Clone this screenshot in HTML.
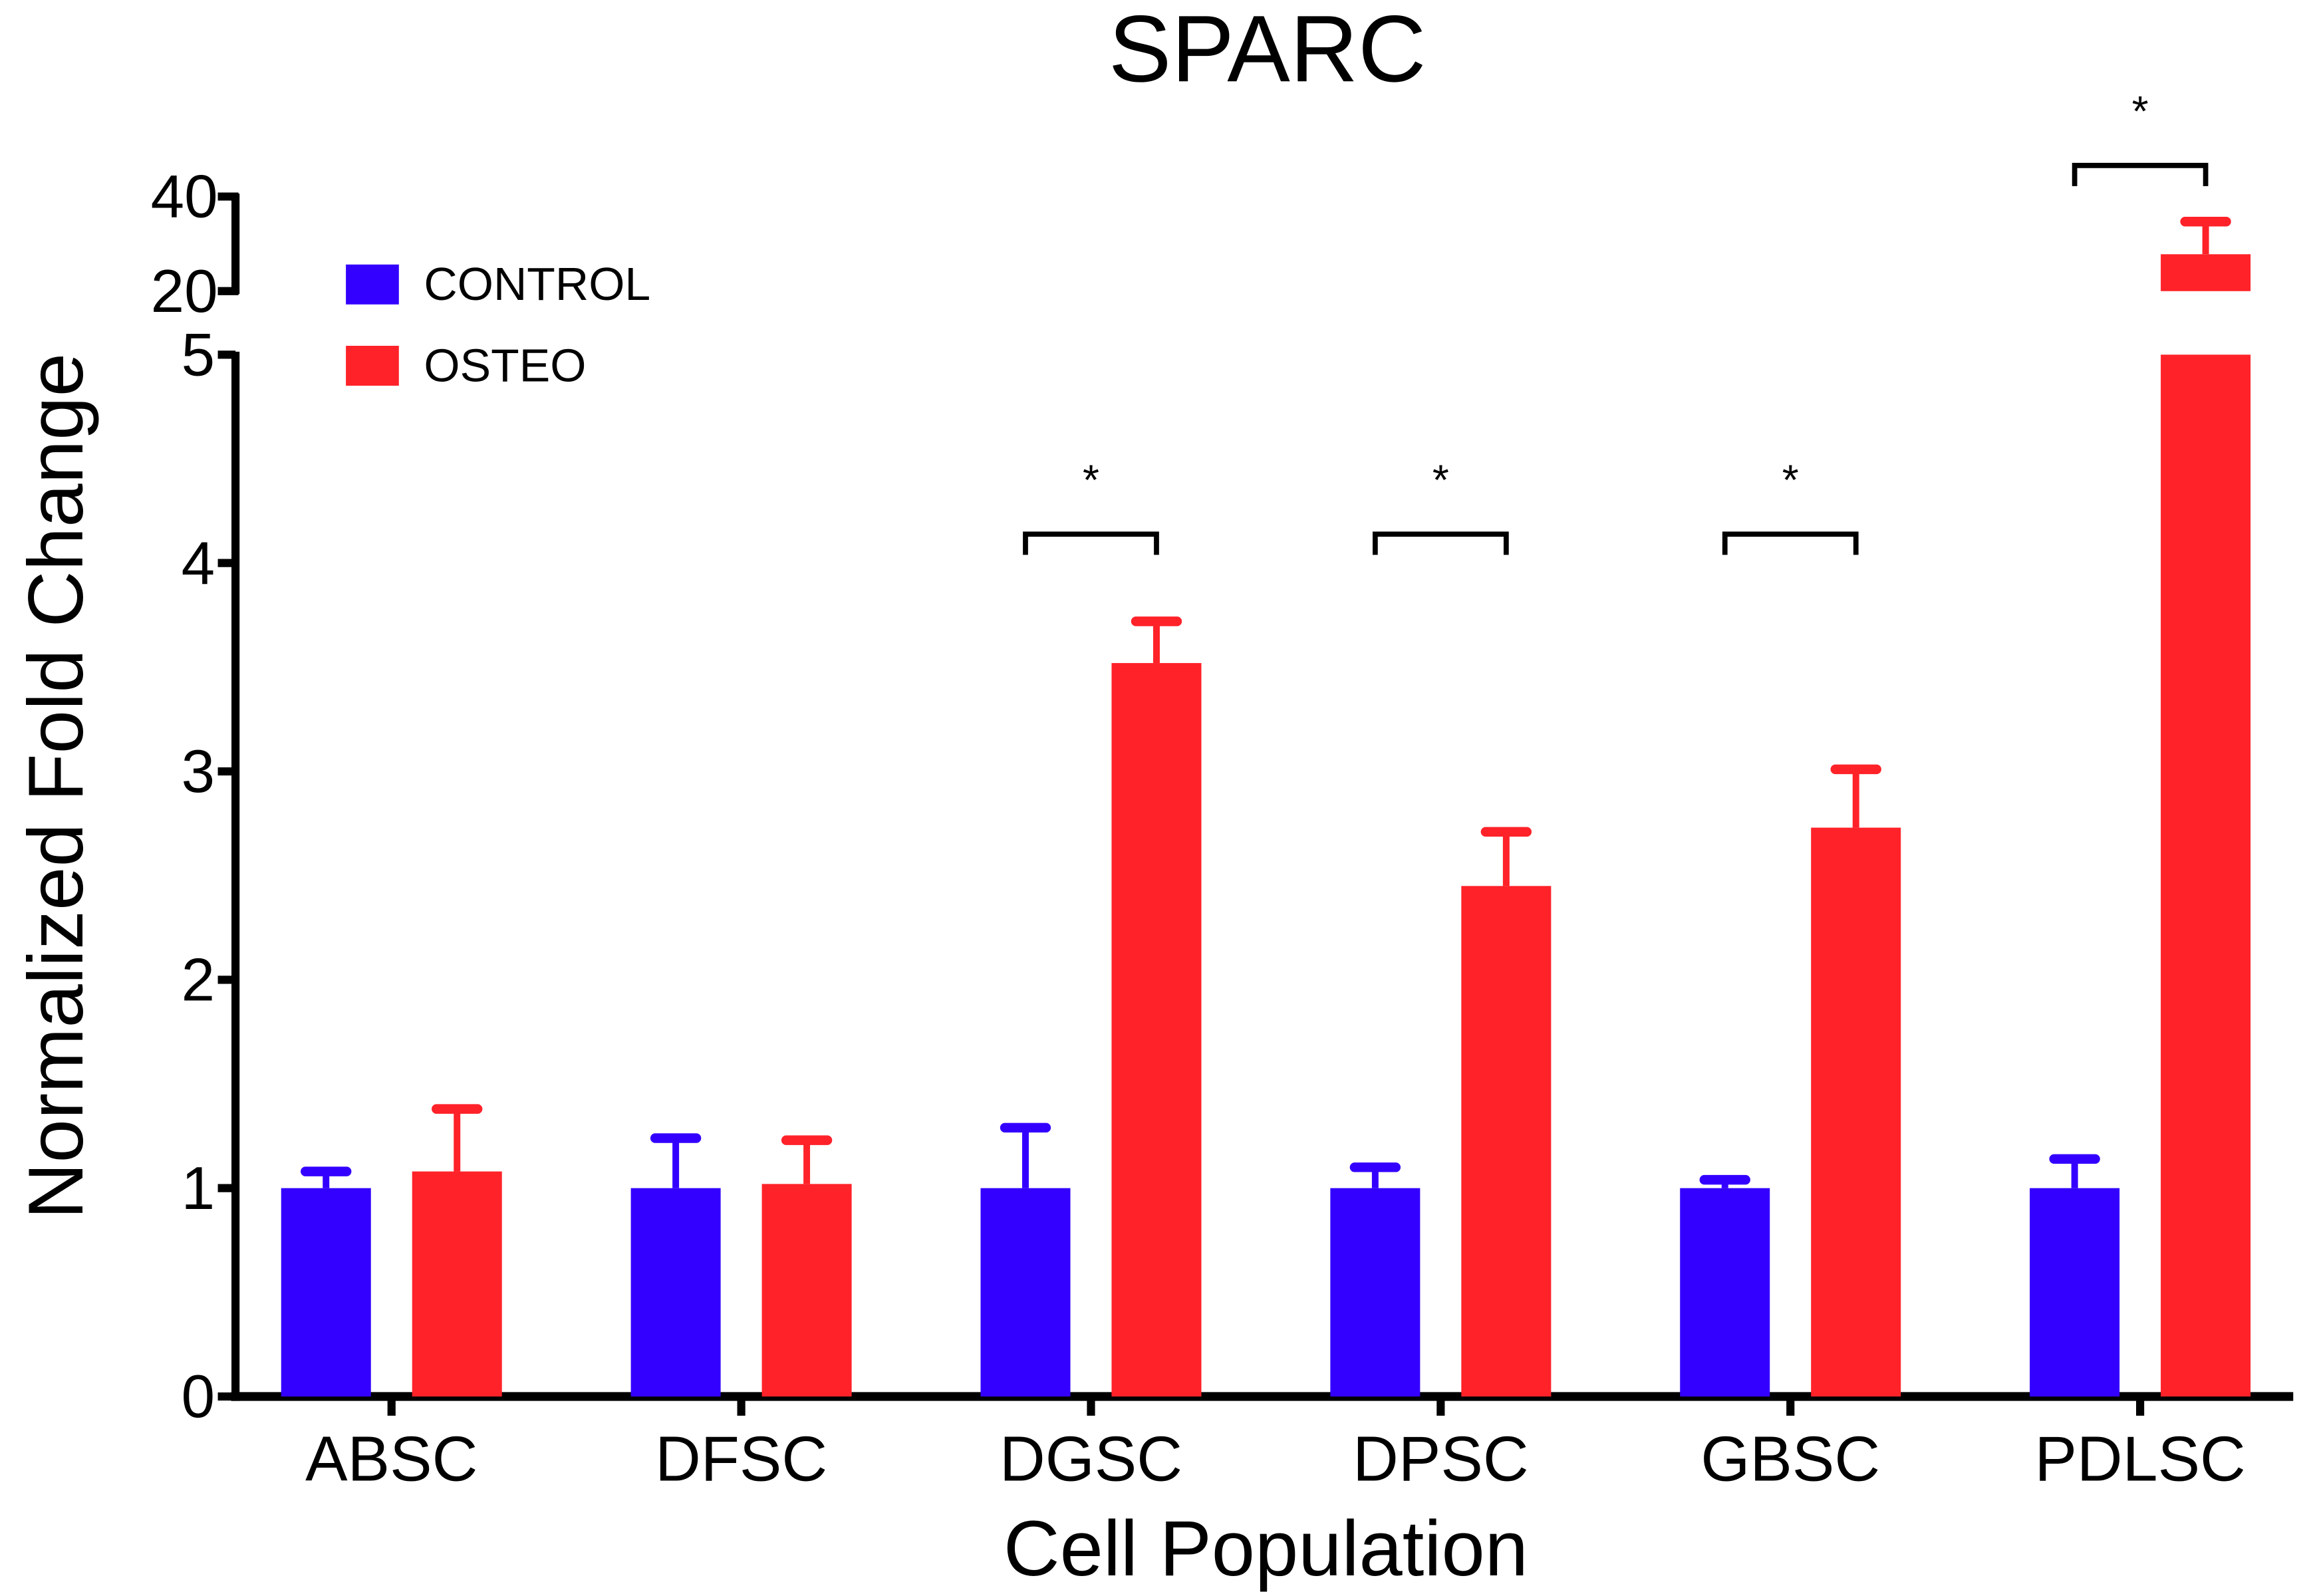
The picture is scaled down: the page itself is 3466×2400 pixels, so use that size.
<!DOCTYPE html>
<html><head><meta charset="utf-8"><style>
html,body{margin:0;padding:0;background:#fff;}
svg{display:block;font-family:"Liberation Sans",Arial,sans-serif;}
</style></head><body>
<svg id="chart" width="3466" height="2400" viewBox="0 0 1566 1080" preserveAspectRatio="none" xmlns="http://www.w3.org/2000/svg">
<text x="861" y="55" font-size="64" text-anchor="middle">SPARC</text>
<text transform="translate(56,532) rotate(-90)" font-size="53" text-anchor="middle">Normalized Fold Change</text>
<text x="860" y="1066" font-size="53" text-anchor="middle">Cell Population</text>
<g>
<rect x="235" y="179" width="36" height="27" fill="#3300FF"/>
<text x="288" y="203" font-size="31.5">CONTROL</text>
<rect x="235" y="234" width="36" height="27" fill="#FF2229"/>
<text x="288" y="258" font-size="31.5">OSTEO</text>
</g>
<g id="plot"></g>
</svg>
<script>
const categories = ["ABSC","DFSC","DGSC","DPSC","GBSC","PDLSC"];
const controlValues = [1, 1, 1, 1, 1, 1];
const controlErrors = [0.08, 0.24, 0.29, 0.10, 0.04, 0.14];
const osteoValues = [1.08, 1.02, 3.52, 2.45, 2.73, 27.8];
const osteoErrors = [0.30, 0.21, 0.20, 0.26, 0.28, 6.9];
const lowerTicks = [0,1,2,3,4,5];
const upperTicks = [20,40];
const significant = [false,false,true,true,true,true];

const NS="http://www.w3.org/2000/svg";
const g=document.getElementById('plot');
function el(t,a){const e=document.createElementNS(NS,t);for(const k in a)e.setAttribute(k,a[k]);g.appendChild(e);return e;}
const x0=160, groupStart=266, groupStep=237.6;
function xCenter(i){return groupStart+i*groupStep;}
function yLow(v){return 945-v*141;}
function yHigh(v){return 197-(v-20)*3.2;}
function yAny(v){return v<=5?yLow(v):yHigh(v);}
const BW=61, OFF=44.5;

let e=el('line',{x1:x0,y1:238,x2:x0,y2:948,stroke:'#000','stroke-width':5.5});


e=el('line',{x1:x0,y1:131,x2:x0,y2:199,stroke:'#000','stroke-width':5.5});


lowerTicks.forEach(t=>{
  const y=yLow(t);
  let tk=el('line',{x1:x0-12,y1:y,x2:x0,y2:y,stroke:'#000','stroke-width':5.5});
  
  
  let tx=el('text',{x:x0-14,y:y+14,'font-size':41,'text-anchor':'end'});
  tx.textContent=t;
  
  
});
upperTicks.forEach(t=>{
  const y=yHigh(t);
  let tk=el('line',{x1:x0-12,y1:y,x2:x0+2,y2:y,stroke:'#000','stroke-width':5.5});
  
  
  let tx=el('text',{x:x0-12,y:y+14,'font-size':41,'text-anchor':'end'});
  tx.textContent=t;
  
  
});
e=el('line',{x1:x0-3,y1:945,x2:1558,y2:945,stroke:'#000','stroke-width':6});



function bar(i,v,err,color,dx,name){
  const xc=xCenter(i)+dx;
  if(v<=5){
    const r=el('rect',{x:xc-BW/2,y:yLow(v),width:BW,height:945-yLow(v),fill:color});
    
    
  } else {
    const r=el('rect',{x:xc-BW/2,y:yLow(5),width:BW,height:945-yLow(5),fill:color});
    
    
    const r2=el('rect',{x:xc-BW/2,y:yHigh(v),width:BW,height:yHigh(20)-yHigh(v),fill:color});
    
    
  }
  const yt=yAny(v+err), yb=yAny(v);
  const s=el('line',{x1:xc,y1:yb,x2:xc,y2:yt,stroke:color,'stroke-width':4.5});
  
  
  const c=el('line',{x1:xc-14,y1:yt,x2:xc+14,y2:yt,stroke:color,'stroke-width':6.5,'stroke-linecap':'round'});
  
  
}
let lowerMax=0;
categories.forEach((c,i)=>{
  const t=Math.max(controlValues[i]+controlErrors[i],osteoValues[i]+osteoErrors[i]);
  if(significant[i] && t<=5) lowerMax=Math.max(lowerMax,t);
});
categories.forEach((c,i)=>{
  bar(i,controlValues[i],controlErrors[i],'#3300FF',-OFF,'control');
  bar(i,osteoValues[i],osteoErrors[i],'#FF2229',OFF,'osteo');
  const xc=xCenter(i);
  const tk=el('line',{x1:xc,y1:945,x2:xc,y2:958,stroke:'#000','stroke-width':5.5});
  
  
  const tx=el('text',{x:xc,y:1002,'font-size':43,'text-anchor':'middle'});
  tx.textContent=c;
  
  
  if(significant[i]){
    const top=Math.max(controlValues[i]+controlErrors[i],osteoValues[i]+osteoErrors[i]);
    const yb= top<=5 ? yLow(lowerMax)-59 : yAny(top)-38;
    const br=el('path',{d:`M${xc-OFF},${yb+14} V${yb} H${xc+OFF} V${yb+14}`,fill:'none',stroke:'#000','stroke-width':3.5});
    
    
    const st=el('text',{x:xc,y:yb-27,'font-size':29,'text-anchor':'middle'});
    st.textContent='*';
    
    
  }
});
</script>
</body></html>
